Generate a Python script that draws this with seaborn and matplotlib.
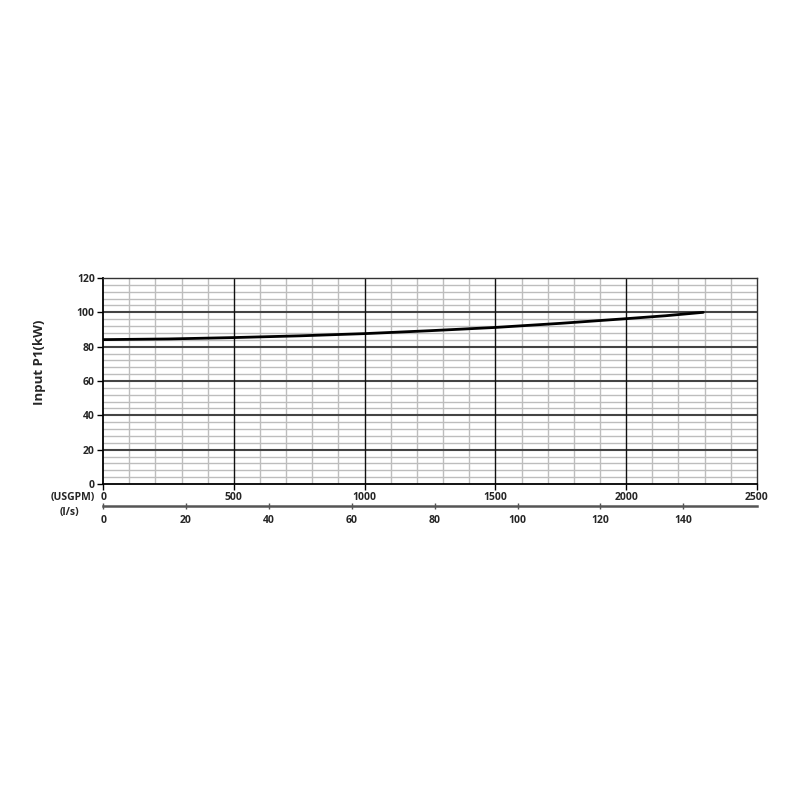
import matplotlib.pyplot as plt
import numpy as np
import pandas as pd
import seaborn as sns
from matplotlib.ticker import MultipleLocator

# values
flow_usgpm = [0, 250, 500, 750, 1000, 1250, 1500, 1750, 2000, 2150, 2295]
power_kw = [84.1, 84.5, 85.3, 86.3, 87.6, 89.3, 91.2, 93.6, 96.3, 98.0, 100.0]

usgpm_ticks = [0, 500, 1000, 1500, 2000, 2500]
ls_ticks = [0, 20, 40, 60, 80, 100, 120, 140]
power_ticks = [0, 20, 40, 60, 80, 100, 120]
USGPM_PER_LS = 15.85

df = pd.DataFrame({"flow": flow_usgpm, "power": power_kw})

sns.set_style("white")
plt.rcParams["font.family"] = ["Open Sans", "DejaVu Sans"]
plt.rcParams["font.weight"] = "bold"

fig = plt.figure(figsize=(8, 8), dpi=100)
ax = fig.add_axes([0.129, 0.395, 0.817, 0.2575])

ax.set_xlim(0, 2500)
ax.set_ylim(0, 120)
ax.xaxis.set_minor_locator(MultipleLocator(100))
ax.yaxis.set_minor_locator(MultipleLocator(4))
ax.set_xticks(usgpm_ticks)
ax.set_yticks(power_ticks)
ax.grid(which="minor", color="#bdbdbd", linewidth=1.0)
ax.grid(which="major", visible=False)
ax.set_axisbelow(True)

# major grid drawn over the minor one
ax.hlines(power_ticks[1:-1], 0, 2500, colors="#444444", linewidth=1.5, zorder=1.5)
ax.vlines(usgpm_ticks[1:-1], 0, 120, colors="#111111", linewidth=1.0, zorder=1.6)

sns.lineplot(data=df, x="flow", y="power", color="black", linewidth=2.0, ax=ax, zorder=3)

for side in ["left", "bottom"]:
    ax.spines[side].set_color("black")
    ax.spines[side].set_linewidth(1.3)
for side in ["top", "right"]:
    ax.spines[side].set_color("#333333")
    ax.spines[side].set_linewidth(1.0)

ax.tick_params(axis="both", which="major", length=4, width=1.0, color="black",
               labelsize=7.5, pad=2, bottom=True, left=True)
ax.tick_params(axis="both", which="minor", length=0)
ax.set_xticklabels([str(t) for t in usgpm_ticks], fontweight="bold")
ax.set_yticklabels([str(t) for t in power_ticks], fontweight="bold")
ax.set_xlabel("")
ax.set_ylabel("Input P1(kW)", fontsize=9.5, fontweight="bold")
ax.yaxis.set_label_coords(-0.087, 0.592)
ax.text(-0.046, -0.066, "(USGPM)", transform=ax.transAxes, ha="center", va="center",
        fontsize=7.5, fontweight="bold")

# second flow scale in l/s
ax2 = fig.add_axes([0.129, 0.368, 0.817, 0.001])
ax2.set_xlim(0, 2500 / USGPM_PER_LS)
ax2.set_xticks(ls_ticks)
ax2.set_xticklabels([str(t) for t in ls_ticks], fontweight="bold")
ax2.set_yticks([])
for side in ["left", "right", "top"]:
    ax2.spines[side].set_visible(False)
ax2.spines["bottom"].set_color("#555555")
ax2.spines["bottom"].set_linewidth(1.8)
ax2.tick_params(axis="x", direction="inout", length=4, width=1.0, color="#555555",
                labelsize=7.5, pad=5, bottom=True)
ax2.text(-0.052, -9, "(l/s)", transform=ax2.transAxes, ha="center", va="center",
         fontsize=7.5, fontweight="bold")
ax2.patch.set_visible(False)

fig.savefig("out.png", dpi=100)
plt.close(fig)
